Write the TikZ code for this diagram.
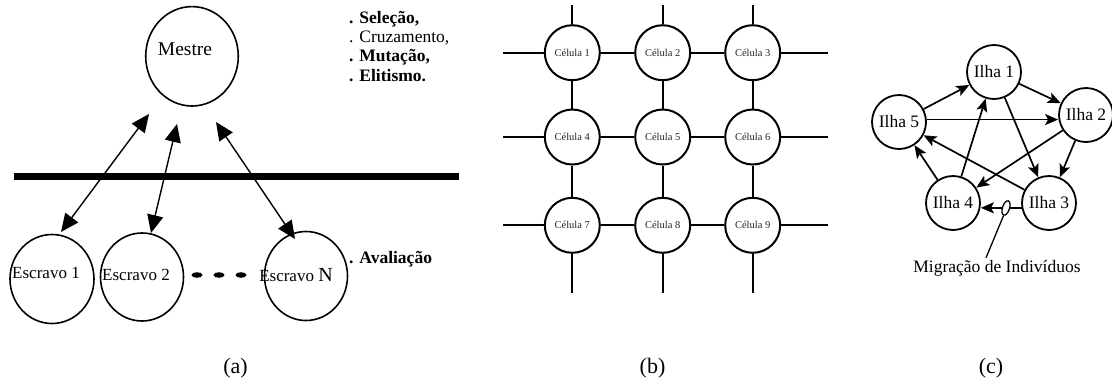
\documentclass[tikz,border=0pt]{standalone}
\usepackage{fontspec}
\setmainfont{Liberation Serif}
\usetikzlibrary{arrows.meta,shapes.geometric}
\begin{document}
\begin{tikzpicture}[x=1pt,y=-1pt,
  oval/.style={draw,ellipse,line width=1.6pt,inner sep=0pt},
  cell/.style={draw,circle,line width=2pt,minimum size=55pt,inner sep=0pt,font=\fontsize{10.5}{12}\selectfont,text=black!85},
  ilha/.style={draw,circle,line width=1.8pt,minimum size=54pt,inner sep=0pt,font=\fontsize{17.5}{19}\selectfont},
  gridline/.style={line width=2pt},
  bigarrow/.style={line width=1.4pt,{Triangle[length=18pt,width=16pt]}-{Triangle[length=18pt,width=16pt]}},
  migarrow/.style={line width=1.7pt,-{Stealth[length=13pt,width=11pt,inset=3pt]}},
  lst/.style={anchor=base west,inner sep=0pt,font=\fontsize{17.5}{20}\selectfont},
  esc/.style={font=\fontsize{17}{19}\selectfont,inner sep=0pt},
  captxt/.style={font=\fontsize{22}{24}\selectfont,inner sep=0pt}
]
\useasboundingbox (0,0) rectangle (1112,381);

% ---------------- (a) ----------------
\node[oval,minimum width=92.6pt,minimum height=99.4pt] (mestre) at (192,56.3) {};
\node[font=\fontsize{19.5}{22}\selectfont,inner sep=0pt] (mestreT) at (185,49) {Mestre};
\coordinate (barL) at (14,176);
\coordinate (barR) at (459,176);
\draw[line width=7pt] (barL) -- (barR);

\node[oval,minimum width=84pt,minimum height=89pt] (e1) at (52,279) {};
\node[oval,minimum width=83pt,minimum height=88pt] (e2) at (142,277) {};
\node[oval,minimum width=83pt,minimum height=89pt] (eN) at (306,276) {};
\node[esc] (e1T) at (46,273) {Escravo 1};
\node[esc] (e2T) at (136,275) {Escravo 2};
\node[esc] (eNT) at (296,275) {Escravo {\fontsize{20}{22}\selectfont N}};

\fill (197,275) ellipse [x radius=5.5, y radius=2.8];
\fill (219,275) ellipse [x radius=5.5, y radius=2.8];
\fill (241,275) ellipse [x radius=5.5, y radius=2.8];

\coordinate (a1t) at (149,114);
\coordinate (a1b) at (61,232);
\coordinate (a2t) at (177,124);
\coordinate (a2b) at (151,233);
\coordinate (a3t) at (216,122);
\coordinate (a3b) at (295,239);
\draw[bigarrow] (a1t) -- (a1b);
\draw[bigarrow] (a2t) -- (a2b);
\draw[bigarrow] (a3t) -- (a3b);

\node[lst] (l1) at (349,23) {\textbf{. Seleção,}};
\node[lst] (l2) at (349,42.3) {. Cruzamento,};
\node[lst] (l3) at (349,61.7) {\textbf{. Mutação,}};
\node[lst] (l4) at (349,81) {\textbf{. Elitismo.}};
\node[lst] (l5) at (349,263.5) {\textbf{. Avaliação}};

\node[captxt] (capa) at (235.5,368) {(a)};

% ---------------- (b) ----------------
\node[cell] (c1) at (572.3,52.7) {Célula 1};
\node[cell] (c2) at (662.7,52.7) {Célula 2};
\node[cell] (c3) at (752.7,52.7) {Célula 3};
\node[cell] (c4) at (572.3,137) {Célula 4};
\node[cell] (c5) at (662.7,137) {Célula 5};
\node[cell] (c6) at (752.7,137) {Célula 6};
\node[cell] (c7) at (572.3,225.3) {Célula 7};
\node[cell] (c8) at (662.7,225.3) {Célula 8};
\node[cell] (c9) at (752.7,225.3) {Célula 9};

\coordinate (L1) at (503,52.7);  \coordinate (R1) at (828,52.7);
\coordinate (L2) at (503,137);   \coordinate (R2) at (828,137);
\coordinate (L3) at (503,225.3); \coordinate (R3) at (828,225.3);
\coordinate (T1) at (572.3,5);   \coordinate (B1) at (572.3,293);
\coordinate (T2) at (662.7,5);   \coordinate (B2) at (662.7,293);
\coordinate (T3) at (752.7,5);   \coordinate (B3) at (752.7,293);

\draw[gridline] (L1) -- (c1); \draw[gridline] (c1) -- (c2); \draw[gridline] (c2) -- (c3); \draw[gridline] (c3) -- (R1);
\draw[gridline] (L2) -- (c4); \draw[gridline] (c4) -- (c5); \draw[gridline] (c5) -- (c6); \draw[gridline] (c6) -- (R2);
\draw[gridline] (L3) -- (c7); \draw[gridline] (c7) -- (c8); \draw[gridline] (c8) -- (c9); \draw[gridline] (c9) -- (R3);
\draw[gridline] (T1) -- (c1); \draw[gridline] (c1) -- (c4); \draw[gridline] (c4) -- (c7); \draw[gridline] (c7) -- (B1);
\draw[gridline] (T2) -- (c2); \draw[gridline] (c2) -- (c5); \draw[gridline] (c5) -- (c8); \draw[gridline] (c8) -- (B2);
\draw[gridline] (T3) -- (c3); \draw[gridline] (c3) -- (c6); \draw[gridline] (c6) -- (c9); \draw[gridline] (c9) -- (B3);

\node[captxt] (capb) at (652.5,368) {(b)};

% ---------------- (c) ----------------
\node[ilha] (I1) at (994,72) {Ilha 1};
\node[ilha] (I2) at (1086,115) {Ilha 2};
\node[ilha] (I3) at (1049,203) {Ilha 3};
\node[ilha] (I4) at (953,203) {Ilha 4};
\node[ilha] (I5) at (899,122) {Ilha 5};

\draw[migarrow] (I5) -- (I1);
\draw[migarrow] (I1) -- (I2);
\draw[migarrow] (I5.5) -- (I5.5 -| I2.west);
\draw[migarrow] (I2) -- (I3);
\draw[migarrow] (I1) -- (I3);
\draw[migarrow] (I2) -- (I4);
\draw[migarrow] (I4) -- (I1);
\draw[migarrow] (I4) -- (I5);
\draw[migarrow] (I3) -- (I5);
\draw[migarrow] (I3.190) -- (I3.190 -| I4.east);

\node[draw,ellipse,line width=1.3pt,fill=white,minimum width=7pt,minimum height=15pt,inner sep=0pt,rotate=-18] (elo) at (1006,208) {};
\node[font=\fontsize{17.5}{20}\selectfont,inner sep=0pt] (migT) at (997,268) {Migração de Indivíduos};
\draw[line width=1.3pt] (elo.south) -- ([xshift=-11pt,yshift=2pt]migT.north);

\node[captxt] (capc) at (991,368) {(c)};
\end{tikzpicture}
\end{document}
